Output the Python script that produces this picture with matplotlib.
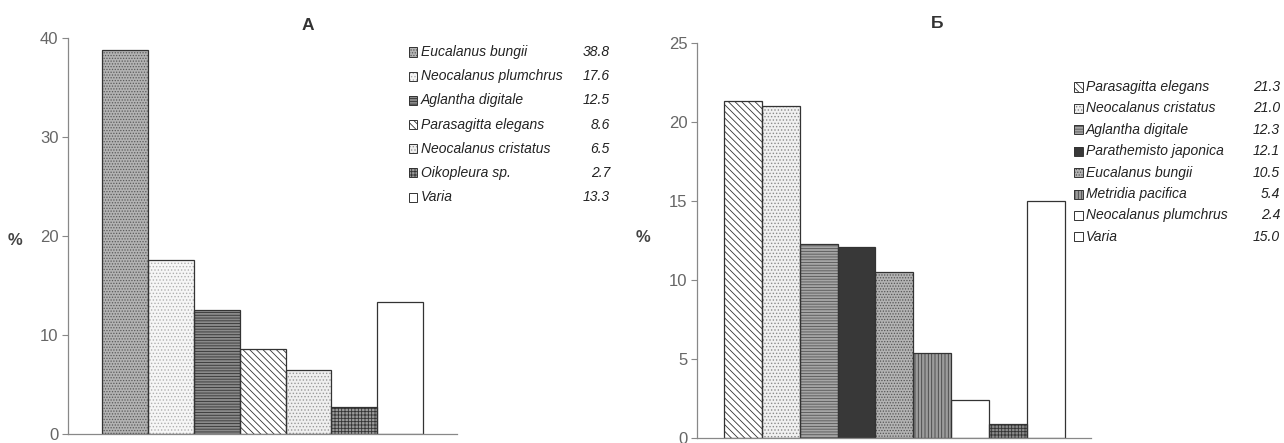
import matplotlib.pyplot as plt
from matplotlib.patches import Rectangle

plt.rcParams['font.family'] = ['Liberation Sans', 'DejaVu Sans']
plt.rcParams['hatch.linewidth'] = 0.6

# panel A data
a_species = ['Eucalanus bungii', 'Neocalanus plumchrus', 'Aglantha digitale',
             'Parasagitta elegans', 'Neocalanus cristatus', 'Oikopleura sp.', 'Varia']
a_values = [38.8, 17.6, 12.5, 8.6, 6.5, 2.7, 13.3]
a_ticks = [0, 10, 20, 30, 40]

# panel B data ('' = bar without legend entry)
b_species = ['Parasagitta elegans', 'Neocalanus cristatus', 'Aglantha digitale',
             'Parathemisto japonica', 'Eucalanus bungii', 'Metridia pacifica',
             'Neocalanus plumchrus', '', 'Varia']
b_values = [21.3, 21.0, 12.3, 12.1, 10.5, 5.4, 2.4, 0.9, 15.0]
b_ticks = [0, 5, 10, 15, 20, 25]

EDGE = '#333333'
TICK = '#666666'

# fill styles (facecolor, hatch, hatch colour)
a_styles = [('#b3b3b3', '......', '#5a5a5a'), ('#f6f6f6', '.....', '#b0b0b0'),
            ('#8a8a8a', '------', '#333333'), ('white', '\\\\\\\\\\', '#333333'),
            ('#efefef', '.....', '#999999'), ('#9a9a9a', '+++++', '#333333'),
            ('white', None, '#333333')]
b_styles = [('white', '\\\\\\\\\\', '#333333'), ('#f0f0f0', '.....', '#8a8a8a'),
            ('#a5a5a5', '------', '#555555'), ('#383838', None, '#383838'),
            ('#b3b3b3', '......', '#555555'), ('#9c9c9c', '|||||', '#444444'),
            ('white', None, '#333333'), ('#8a8a8a', '+++++', '#333333'),
            ('white', None, '#333333')]

fig = plt.figure(figsize=(12.84, 4.43), dpi=100)


def draw_panel(rect, values, styles, ticks, pad):
    ax = fig.add_axes(rect)
    xs = list(range(len(values)))
    # fill + hatch first, then the outlines on top
    for x, v, (fc, h, hc) in zip(xs, values, styles):
        ax.bar(x, v, width=1.0, color=fc, edgecolor=hc, hatch=h, linewidth=0)
    ax.bar(xs, values, width=1.0, fill=False, edgecolor=EDGE, linewidth=0.9)
    ax.set_xlim(-0.5 - pad, len(values) - 0.5 + pad)
    ax.set_ylim(0, ticks[-1])
    ax.set_yticks(ticks)
    ax.set_xticks([])
    for s in ['top', 'right']:
        ax.spines[s].set_visible(False)
    for s in ['left', 'bottom']:
        ax.spines[s].set_color('#888888')
        ax.spines[s].set_linewidth(0.9)
    ax.tick_params(axis='y', direction='out', length=4, width=0.8,
                   color='#888888', labelcolor=TICK, labelsize=12, pad=3)
    return ax


ax_a = draw_panel([0.053, 0.020, 0.303, 0.894], a_values, a_styles, a_ticks, 0.74)
ax_b = draw_panel([0.543, 0.011, 0.307, 0.892], b_values, b_styles, b_ticks, 0.71)

fig.text(0.240, 0.943, 'А', fontsize=12.5, fontweight='bold', color='#333333',
         ha='center', va='center')
fig.text(0.730, 0.948, 'Б', fontsize=12.5, fontweight='bold', color='#333333',
         ha='center', va='center')
fig.text(0.012, 0.458, '%', fontsize=12, fontweight='bold', color='#444444',
         ha='center', va='center')
fig.text(0.501, 0.465, '%', fontsize=12, fontweight='bold', color='#444444',
         ha='center', va='center')


def draw_legend(names, values, styles, x0, y0, dy, xval):
    W, H = 1284, 443
    row = 0
    for name, v, (fc, h, hc) in zip(names, values, styles):
        if not name:
            continue
        y = y0 + row * dy
        xy = ((x0 - 4.5) / W, 1 - (y + 4.5) / H)
        fig.add_artist(Rectangle(xy, 9 / W, 9 / H, transform=fig.transFigure,
                                 facecolor=fc, edgecolor=hc, hatch=h, linewidth=0))
        fig.add_artist(Rectangle(xy, 9 / W, 9 / H, transform=fig.transFigure,
                                 fill=False, edgecolor=EDGE, linewidth=0.7))
        fig.text((x0 + 8) / W, 1 - y / H, name, fontsize=10, style='italic',
                 color='#222222', ha='left', va='center')
        fig.text(xval / W, 1 - y / H, f'{v:.1f}', fontsize=10, style='italic',
                 color='#222222', ha='right', va='center')
        row += 1


draw_legend(a_species, a_values, a_styles, 413, 52, 24.2, 610)
draw_legend(b_species, b_values, b_styles, 1078, 87, 21.4, 1280)

fig.savefig('out.png', dpi=100)
